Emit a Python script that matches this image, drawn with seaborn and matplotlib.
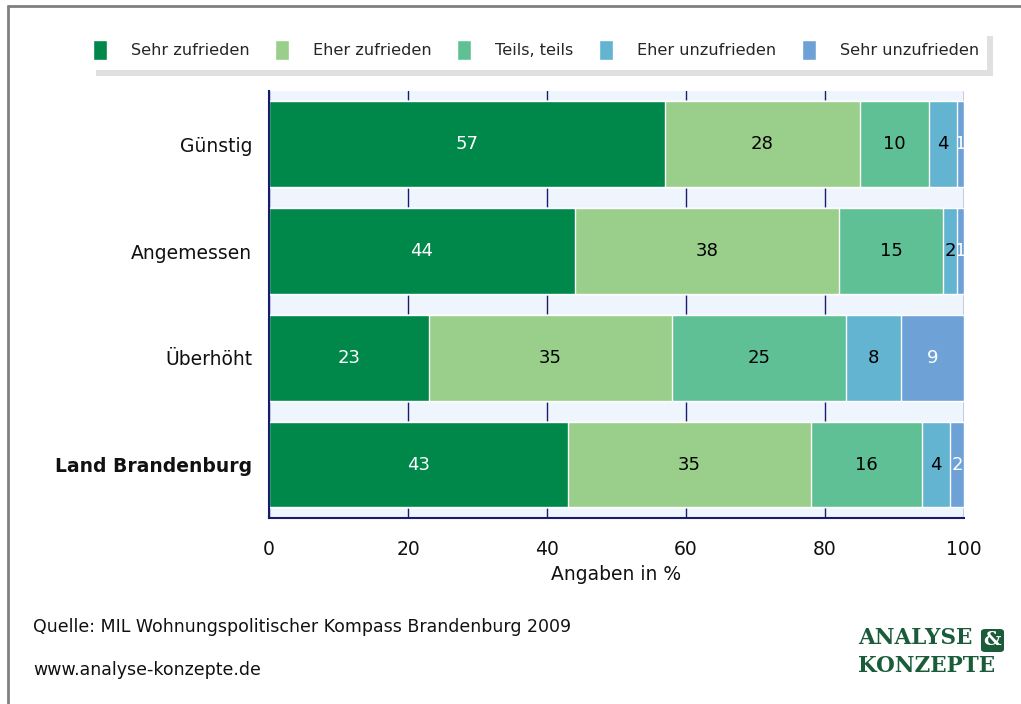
import numpy as np
import pandas as pd
import matplotlib
matplotlib.use("Agg")
import matplotlib.pyplot as plt
import seaborn as sns
from matplotlib.patches import Rectangle, FancyBboxPatch

categories = ["Günstig", "Angemessen", "Überhöht", "Land Brandenburg"]
series = ["Sehr zufrieden", "Eher zufrieden", "Teils, teils", "Eher unzufrieden", "Sehr unzufrieden"]
sehr_zufrieden = [57, 44, 23, 43]
eher_zufrieden = [28, 38, 35, 35]
teils_teils = [10, 15, 25, 16]
eher_unzufrieden = [4, 2, 8, 4]
sehr_unzufrieden = [1, 1, 9, 2]

colors = ["#00884a", "#99cf8a", "#60c095", "#62b4d0", "#6ea2d6"]
label_colors = ["white", "black", "black", "black", "white"]

vals = np.array([sehr_zufrieden, eher_zufrieden, teils_teils,
                 eher_unzufrieden, sehr_unzufrieden])
cum = vals.cumsum(axis=0)

sns.set_style("white")
plt.rcParams["font.family"] = ["DejaVu Sans"]
navy = "#1a1a6e"

fig = plt.figure(figsize=(10.21, 7.04), dpi=100)
ax = fig.add_axes([0.2635, 0.264, 0.6807, 0.607])
ax.set_facecolor("#eef5fd")

# stacked bars: draw cumulative totals, widest first
for i in reversed(range(len(series))):
    df = pd.DataFrame({"cat": categories, "val": cum[i]})
    sns.barplot(data=df, x="val", y="cat", orient="h", color=colors[i],
                width=0.8, saturation=1, ax=ax, zorder=2)

for i in range(len(series)):
    for j in range(len(categories)):
        left = cum[i][j] - vals[i][j]
        ax.text(left + vals[i][j] / 2, j, str(vals[i][j]), ha="center",
                va="center", color=label_colors[i], fontsize=13, zorder=3)

ax.set_xlim(0, 100)
ax.set_ylim(3.5, -0.5)
ax.set_xticks([0, 20, 40, 60, 80, 100])
ax.xaxis.grid(True, color=navy, linewidth=1.0, zorder=1)
ax.set_axisbelow(True)
for s in ["top", "right"]:
    ax.spines[s].set_visible(False)
for s in ["left", "bottom"]:
    ax.spines[s].set_color(navy)
    ax.spines[s].set_linewidth(1.5)
ax.tick_params(axis="x", colors=navy, length=10, width=1.2, labelsize=13.5,
               labelcolor="#111111", pad=6)
ax.tick_params(axis="y", length=0, labelsize=13.5, labelcolor="#111111", pad=12)
ax.set_ylabel("")
ax.set_xlabel("Angaben in %", fontsize=13.5, color="#111111", labelpad=4)
ylabels = ax.get_yticklabels()
ylabels[-1].set_fontweight("bold")

# legend box with shadow
fig.patches.append(Rectangle((96 / 1021, 1 - 76 / 704), 897 / 1021, 40 / 704,
                             transform=fig.transFigure, facecolor="#e0e0e0",
                             edgecolor="none", zorder=0))
fig.patches.append(Rectangle((90 / 1021, 1 - 70 / 704), 897 / 1021, 40 / 704,
                             transform=fig.transFigure, facecolor="white",
                             edgecolor="none", zorder=1))
handles = [Rectangle((0, 0), 1, 1, facecolor=c) for c in colors]
fig.legend(handles, series, loc="center", bbox_to_anchor=(536 / 1021, 1 - 50 / 704),
           ncol=5, frameon=False, fontsize=11.6, handlelength=0.85, handleheight=1.6,
           columnspacing=1.6, handletextpad=1.5)

# frame lines
fig.add_artist(plt.Line2D([8 / 1021, 8 / 1021], [0, 1 - 6 / 704],
                          transform=fig.transFigure, color="#808080", linewidth=2))
fig.add_artist(plt.Line2D([8 / 1021, 1], [1 - 6 / 704, 1 - 6 / 704],
                          transform=fig.transFigure, color="#808080", linewidth=2))

fig.text(33 / 1021, 1 - 627 / 704, "Quelle: MIL Wohnungspolitischer Kompass Brandenburg 2009",
         fontsize=12.5, color="#111111", va="center")
fig.text(33 / 1021, 1 - 670 / 704, "www.analyse-konzepte.de",
         fontsize=12.5, color="#111111", va="center")

logo_green = "#1a5c3a"
fig.text(858 / 1021, 1 - 638 / 704, "ANALYSE", fontsize=15.5, fontweight="bold",
         family="DejaVu Serif", color=logo_green, va="center")
fig.patches.append(FancyBboxPatch((981 / 1021, 1 - 652 / 704), 23 / 1021, 23 / 704,
                                  boxstyle="round,pad=0.0,rounding_size=0.004",
                                  transform=fig.transFigure, facecolor=logo_green,
                                  edgecolor="none"))
fig.text(992.5 / 1021, 1 - 640 / 704, "&", fontsize=14, fontweight="bold",
         family="DejaVu Serif", color="white", va="center", ha="center")
fig.text(858 / 1021, 1 - 666 / 704, "KONZEPTE", fontsize=15.5, fontweight="bold",
         family="DejaVu Serif", color=logo_green, va="center")

fig.savefig("out.png", dpi=100)
